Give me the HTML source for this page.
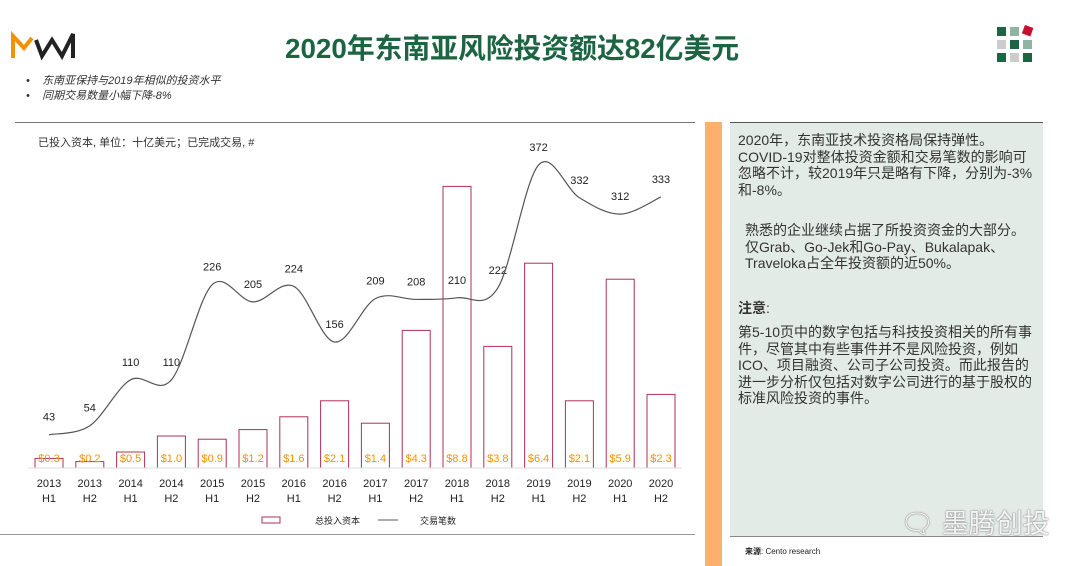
<!DOCTYPE html>
<html><head><meta charset="utf-8"><style>
body{margin:0;width:1080px;height:566px;background:#fff;position:relative;overflow:hidden;font-family:"Liberation Sans","Noto Sans CJK SC",sans-serif;}
.abs{position:absolute;}
.panel p{margin:0;}
</style></head><body>
<svg class="abs" style="left:10px;top:30px" width="70" height="32" viewBox="0 0 70 32">
<polyline points="3,28 3,6 14,18 22,8" fill="none" stroke="#f39200" stroke-width="4"/>
<polyline points="26,10 32,26 42,10 52,26 63,4 63,28" fill="none" stroke="#222" stroke-width="4"/>
</svg>
<div class="abs" style="left:285px;top:27px;font-size:27.8px;font-weight:bold;color:#1d6443;white-space:nowrap">2020年东南亚风险投资额达82亿美元</div>
<svg class="abs" style="left:995px;top:25px" width="45" height="40">
<rect x="2" y="2" width="9" height="9" fill="#1d6443"/><rect x="15" y="2" width="9" height="9" fill="#8fb4a2"/><rect x="28" y="1" width="9" height="9" fill="#c8102e" transform="rotate(20 32 6)"/>
<rect x="2" y="15" width="9" height="9" fill="#ccc"/><rect x="15" y="15" width="9" height="9" fill="#1d6443"/><rect x="28" y="15" width="9" height="9" fill="#8fb4a2"/>
<rect x="2" y="28" width="9" height="9" fill="#1d6443"/><rect x="15" y="28" width="9" height="9" fill="#ccc"/><rect x="28" y="28" width="9" height="9" fill="#1d6443"/>
</svg>
<div class="abs" style="left:26px;top:74px;font-size:11px;font-style:italic;color:#333;line-height:15px">
<div>•&nbsp;&nbsp;&nbsp;&nbsp;东南亚保持与2019年相似的投资水平</div>
<div>•&nbsp;&nbsp;&nbsp;&nbsp;同期交易数量小幅下降-8%</div></div>
<div class="abs" style="left:15px;top:122px;width:680px;height:1px;background:#777"></div>
<div class="abs" style="left:0;top:534px;width:695px;height:1px;background:#999"></div>
<div class="abs" style="left:38px;top:134px;font-size:11px;color:#333">已投入资本, 单位：十亿美元；已完成交易, #</div>
<svg class="abs" id="chart" style="left:0;top:0" width="700" height="540"></svg>
<div class="abs" style="left:705px;top:122px;width:17px;height:444px;background:#fbb06e"></div>
<div class="abs panel" style="left:730px;top:122px;width:305px;height:402px;background:#e3ebe7;border-top:1px solid #555;border-bottom:1px solid #888;padding:9px 0 2px 8px;font-size:14px;line-height:16.5px;color:#333">
<p style="width:300px">2020年，东南亚技术投资格局保持弹性。COVID-19对整体投资金额和交易笔数的影响可忽略不计，较2019年只是略有下降，分别为-3%和-8%。</p>
<p style="margin-top:24px;padding-left:7px;width:292px">熟悉的企业继续占据了所投资资金的大部分。仅Grab、Go-Jek和Go-Pay、Bukalapak、Traveloka占全年投资额的近50%。</p>
<p style="margin-top:28px"><b>注意</b>:</p>
<p style="margin-top:8px;width:298px">第5-10页中的数字包括与科技投资相关的所有事件，尽管其中有些事件并不是风险投资，例如ICO、项目融资、公司子公司投资。而此报告的进一步分析仅包括对数字公司进行的基于股权的标准风险投资的事件。</p>
</div>
<div class="abs" style="left:900px;top:502px;font-size:27px;color:#f4f4f4;text-shadow:0 0 1px #777,0 0 2px #999;">&#x1F5E8; 墨腾创投</div>
<div class="abs" style="left:745px;top:546px;font-size:8px;color:#222"><b>来源</b>: Cento research</div>
<script>
const categories=["2013 H1","2013 H2","2014 H1","2014 H2","2015 H1","2015 H2","2016 H1","2016 H2","2017 H1","2017 H2","2018 H1","2018 H2","2019 H1","2019 H2","2020 H1","2020 H2"];
const capital=[0.3,0.2,0.5,1.0,0.9,1.2,1.6,2.1,1.4,4.3,8.8,3.8,6.4,2.1,5.9,2.3];
const capitalLabels=["$0.3","$0.2","$0.5","$1.0","$0.9","$1.2","$1.6","$2.1","$1.4","$4.3","$8.8","$3.8","$6.4","$2.1","$5.9","$2.3"];
const deals=[43,54,110,110,226,205,224,156,209,208,210,222,372,332,312,333];
const svg=document.getElementById('chart');const NS='http://www.w3.org/2000/svg';
function mk(t,a,txt){const e=document.createElementNS(NS,t);for(const k in a)e.setAttribute(k,a[k]);if(txt!==undefined)e.textContent=txt;svg.appendChild(e);return e;}
const x=i=>49+i*40.8;const yBar=v=>468-v*32;const yDeal=v=>470-v*0.82;
categories.forEach((c,i)=>{
 const b=mk('rect',{x:x(i)-14,y:yBar(capital[i]),width:28,height:468-yBar(capital[i]),fill:'none',stroke:'#b0305a','stroke-width':1});
 
 
 const l=mk('text',{x:x(i),y:462,'text-anchor':'middle','font-size':11,fill:'#f39200'},capitalLabels[i]);
 
 
 const p=c.split(' ');
 const t=mk('text',{x:x(i),y:487,'text-anchor':'middle','font-size':11,fill:'#222'},p[0]);
 
 
 const t2=mk('text',{x:x(i),y:502,'text-anchor':'middle','font-size':11,fill:'#222'},p[1]);
 
 
 const d=mk('text',{x:x(i),y:yDeal(deals[i])-14,'text-anchor':'middle','font-size':11,fill:'#222'},String(deals[i]));
 
 
});
const ax=mk('line',{x1:28,x2:682,y1:468,y2:468,stroke:'#ddd'});


const pts=deals.map((v,i)=>[x(i),yDeal(v)]);
let dstr='M'+pts[0][0]+','+pts[0][1];
for(let i=0;i<pts.length-1;i++){const p0=pts[Math.max(i-1,0)],p1=pts[i],p2=pts[i+1],p3=pts[Math.min(i+2,pts.length-1)];
 dstr+=` C${p1[0]+(p2[0]-p0[0])/6},${p1[1]+(p2[1]-p0[1])/6} ${p2[0]-(p3[0]-p1[0])/6},${p2[1]-(p3[1]-p1[1])/6} ${p2[0]},${p2[1]}`;}
const ln=mk('path',{d:dstr,fill:'none',stroke:'#555','stroke-width':1.2});


const lg1=mk('rect',{x:262,y:517,width:18,height:6,fill:'none',stroke:'#b0305a'});


const lt1=mk('text',{x:315,y:524,'font-size':9,fill:'#222'},'总投入资本');


const lg2=mk('line',{x1:378,x2:398,y1:520,y2:520,stroke:'#555'});


const lt2=mk('text',{x:420,y:524,'font-size':9,fill:'#222'},'交易笔数');


</script>
</body></html>
